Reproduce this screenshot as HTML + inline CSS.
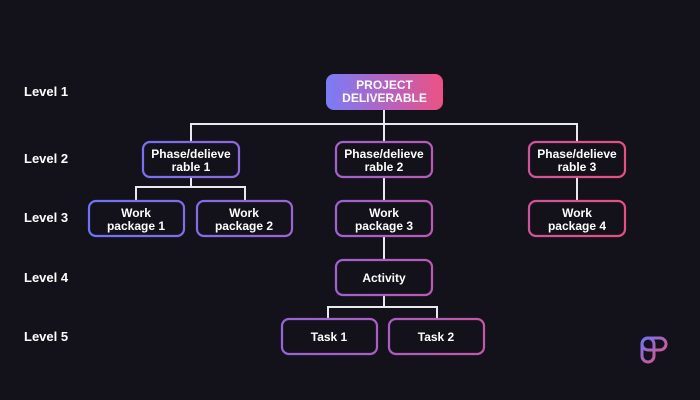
<!DOCTYPE html>
<html><head><meta charset="utf-8"><style>
html,body{margin:0;padding:0;background:#13121b;}
svg{display:block}
text{font-family:"Liberation Sans",sans-serif;}
</style></head><body>
<svg width="700" height="400" viewBox="0 0 700 400" xmlns="http://www.w3.org/2000/svg">
<defs>
<linearGradient id="g" gradientUnits="userSpaceOnUse" x1="88" y1="0" x2="625" y2="0">
<stop offset="0" stop-color="#6d74f8"/><stop offset="0.55" stop-color="#ad5dc4"/><stop offset="1" stop-color="#e6507f"/>
</linearGradient>
<linearGradient id="r" x1="0" y1="0" x2="1" y2="0">
<stop offset="0" stop-color="#7a7df6"/><stop offset="0.5" stop-color="#b363c2"/><stop offset="1" stop-color="#ec5283"/>
</linearGradient>
<linearGradient id="lg" gradientUnits="userSpaceOnUse" x1="641" y1="337" x2="667" y2="363">
<stop offset="0" stop-color="#6d74f8"/><stop offset="1" stop-color="#f24f78"/>
</linearGradient>
</defs>
<rect width="700" height="400" fill="#13121b"/>
<g fill="#ffffff" font-size="13" font-weight="bold">
<text x="24" y="96">Level 1</text>
<text x="24" y="163">Level 2</text>
<text x="24" y="222">Level 3</text>
<text x="24" y="282">Level 4</text>
<text x="24" y="341">Level 5</text>
</g>
<g stroke="#e8e8ee" stroke-width="2" fill="none">
<path d="M384 110V142M191 142V124H577V142"/>
<path d="M191 177V187M136 201V187H245V201"/>
<path d="M384 177V201M384 236V259M384 295V307M328 318V307H437V318"/>
<path d="M577 177V201"/>
</g>
<rect x="326" y="74" width="117" height="36" rx="8" fill="url(#r)"/>
<g fill="#13121b" stroke="url(#g)" stroke-width="2.2">
<rect x="143" y="142" width="96" height="35" rx="7"/>
<rect x="336" y="142" width="96" height="35" rx="7"/>
<rect x="529" y="142" width="96" height="35" rx="7"/>
<rect x="89" y="201" width="95" height="35" rx="7"/>
<rect x="197" y="201" width="95" height="35" rx="7"/>
<rect x="336" y="201" width="96" height="35" rx="7"/>
<rect x="529" y="201" width="96" height="35" rx="7"/>
<rect x="336" y="260" width="96" height="35" rx="7"/>
<rect x="282" y="319" width="95" height="35" rx="7"/>
<rect x="389" y="319" width="95" height="35" rx="7"/>
</g>
<g fill="#ffffff" font-size="12" font-weight="bold" text-anchor="middle">
<text x="384.5" y="89">PROJECT</text><text x="384.5" y="102">DELIVERABLE</text>
<text x="191" y="158">Phase/delieve</text><text x="191" y="171">rable 1</text>
<text x="384" y="158">Phase/delieve</text><text x="384" y="171">rable 2</text>
<text x="577" y="158">Phase/delieve</text><text x="577" y="171">rable 3</text>
<text x="136" y="217">Work</text><text x="136" y="230">package 1</text>
<text x="244" y="217">Work</text><text x="244" y="230">package 2</text>
<text x="384" y="217">Work</text><text x="384" y="230">package 3</text>
<text x="577" y="217">Work</text><text x="577" y="230">package 4</text>
<text x="384" y="282">Activity</text>
<text x="329" y="341">Task 1</text>
<text x="436" y="341">Task 2</text>
</g>
<g fill="none" stroke="url(#lg)" stroke-width="3">
<rect x="642" y="338" width="12" height="24" rx="6"/>
<rect x="642" y="338" width="24" height="12" rx="6"/>
</g>
</svg>
</body></html>
